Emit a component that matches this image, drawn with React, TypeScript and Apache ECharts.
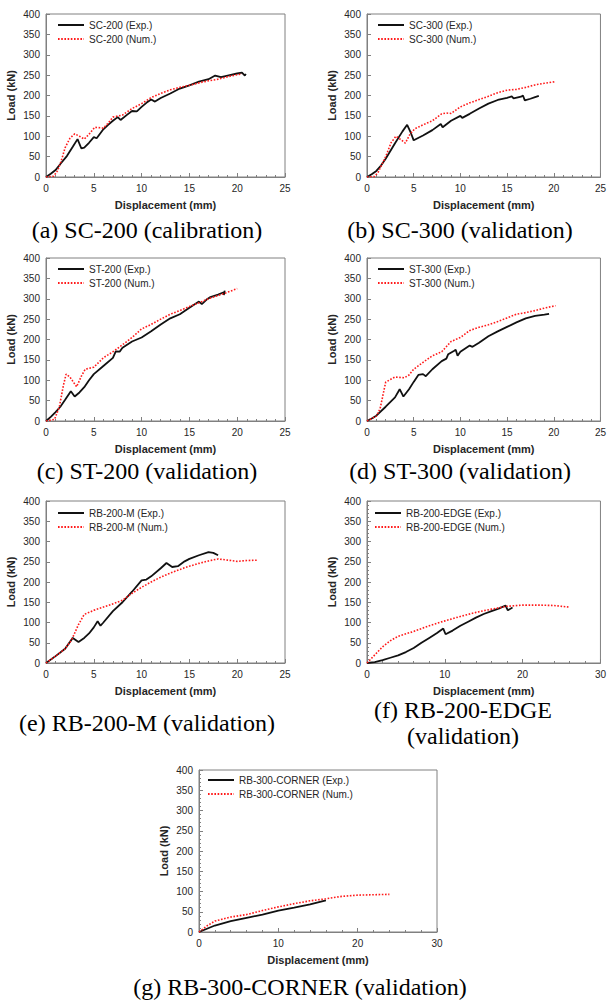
import React, { useEffect, useRef } from "react";
import * as echarts from "echarts";

// ---------- data: [displacement (mm), load (kN)] ----------
const sc200Exp = [[0,0],[0.5,8],[1,17],[1.5,32],[2.2,52],[2.8,74],[3.3,93],[3.7,70],[4,72],[4.5,84],[5,98],[5.3,95],[6,117],[6.5,128],[7,138],[7.5,147],[7.8,140],[8.5,153],[9,162],[9.5,161],[10,172],[10.5,182],[11,190],[11.4,185],[12,194],[13,205],[14,217],[15,225],[16,234],[17,240],[17.7,249],[18.3,245],[19,249],[20,254],[20.5,256],[20.8,249],[20.9,253]];
const sc200Num = [[0,0],[0.8,2],[1.2,15],[1.6,40],[2,72],[2.5,95],[3,106],[3.5,100],[4,93],[4.5,105],[5.1,122],[6,120],[6.5,132],[7,147],[8,152],[9,168],[10,180],[11,195],[12,205],[13,214],[14,220],[15,225],[16,231],[17,236],[18,240],[19,246],[20,251],[20.5,253]];

const sc300Exp = [[0,0],[0.5,7],[1,15],[1.5,28],[2,45],[3,83],[3.8,112],[4.3,128],[4.7,108],[5,90],[6,102],[7,115],[7.9,130],[8.1,122],[9,138],[10,150],[10.2,145],[11,155],[12,168],[13,180],[14,189],[15,194],[15.5,198],[15.7,193],[16.5,197],[16.7,200],[16.9,188],[17.5,192],[18,196],[18.4,199]];
const sc300Num = [[0,0],[0.8,1],[1.2,12],[2,50],[2.6,85],[3.1,100],[3.6,92],[4.1,83],[4.6,105],[5.1,118],[6,128],[7,138],[8,155],[8.5,157],[9,156],[10,172],[11,182],[12,190],[13,198],[14,207],[15,213],[16,215],[17,220],[18,226],[19,230],[20.2,234]];

const st200Exp = [[0,0],[0.5,10],[1,22],[1.5,35],[2,52],[2.6,73],[3,60],[3.5,70],[4,83],[4.5,100],[5,115],[6,135],[7,155],[7.3,171],[7.7,170],[8,180],[9,195],[10,205],[11,220],[12,237],[13,252],[14,262],[15,278],[16,293],[16.3,287],[16.8,298],[17.2,304],[18,310],[18.6,316],[18.6,309],[18.7,320]];
const st200Num = [[0,0],[0.9,4],[1.4,35],[1.8,85],[2.1,115],[2.5,108],[3.2,84],[3.7,110],[4.1,127],[5,132],[6,155],[7,170],[8,187],[9,205],[10,226],[11,237],[12,250],[13,262],[14,271],[15,281],[16,290],[17,300],[18,308],[19,316],[20,325]];

const st300Exp = [[0,0],[0.5,6],[1,13],[2,35],[3,58],[3.5,78],[3.9,60],[4.5,78],[5,96],[5.5,113],[6,115],[6.3,110],[7,127],[8,147],[8.5,153],[8.7,164],[9.3,172],[9.5,175],[9.7,160],[10,170],[11,185],[11.3,182],[12,192],[13,208],[14,220],[15,231],[16,242],[17,252],[18,258],[19,261],[19.5,263]];
const st300Num = [[0,0],[1,12],[1.4,30],[2,95],[2.5,102],[3,108],[4,106],[4.5,113],[5,127],[6,144],[7,160],[8,170],[9,195],[10,205],[11,222],[12,230],[13,236],[14,244],[15,253],[16,262],[17,266],[18,271],[19,277],[20.2,283]];

const rb200mExp = [[0,0],[1,17],[2,35],[2.8,62],[3.4,52],[4,62],[4.5,73],[5,88],[5.4,103],[5.7,92],[6,100],[7,128],[8,150],[9,176],[10,204],[10.5,206],[11,214],[12,234],[12.6,247],[13.2,237],[13.8,239],[14.5,251],[15,257],[16,266],[17,274],[17.5,272],[18,266]];
const rb200mNum = [[0,0],[1,17],[2,35],[2.7,58],[3.4,95],[4,120],[5,130],[6,138],[7,146],[8,155],[9,172],[10,187],[11,200],[12,212],[13,222],[14,231],[15,239],[16,246],[17,252],[18,257],[19,254],[20,251],[21,253],[22.2,254]];

const rb200eExp = [[0,0],[1,2],[2,7],[3,13],[4,19],[5,27],[6,37],[7,50],[8,62],[9,74],[9.8,85],[10.1,71],[11,80],[12,92],[13,102],[14,112],[15,121],[16,128],[17,135],[17.8,142],[18.1,130],[18.7,137]];
const rb200eNum = [[0,0],[1,20],[2,40],[3,55],[4,66],[5,72],[6,78],[7,85],[8,92],[9,98],[10,104],[12,115],[14,125],[16,133],[18,140],[20,143],[22,143],[24,142],[26,138]];

const rb300cExp = [[0,0],[1,8],[2,16],[4,27],[6,35],[8,43],[10,53],[12,60],[14,68],[16,78]];
const rb300cNum = [[0,0],[1,15],[2,27],[4,37],[6,43],[8,53],[10,62],[12,70],[14,77],[16,82],[18,88],[20,91],[22,92],[24,93]];

const specimens = ["SC-200", "SC-300", "ST-200", "ST-300", "RB-200-M", "RB-200-EDGE", "RB-300-CORNER"];
const expData = [sc200Exp, sc300Exp, st200Exp, st300Exp, rb200mExp, rb200eExp, rb300cExp];
const numData = [sc200Num, sc300Num, st200Num, st300Num, rb200mNum, rb200eNum, rb300cNum];
const xMaxes = [25, 25, 25, 25, 25, 30, 30];
const xIntervals = [5, 5, 5, 5, 5, 10, 10];
const yTicksMax = 400;
const yInterval = 50;
const captions = [
  ["(a) SC-200 (calibration)"],
  ["(b) SC-300 (validation)"],
  ["(c) ST-200 (validation)"],
  ["(d) ST-300 (validation)"],
  ["(e) RB-200-M (validation)"],
  ["(f) RB-200-EDGE", "(validation)"],
  ["(g) RB-300-CORNER (validation)"],
];

// ---------- layout ----------
const layout = [
  { grid: { left: 46, top: 14, width: 239, height: 163 }, leg: { left: 57, top: 20 }, cap: { x: 147, y: [230] }, yMinor: false },
  { grid: { left: 367, top: 14, width: 238, height: 163 }, leg: { left: 377, top: 20 }, cap: { x: 460, y: [230] }, yMinor: false },
  { grid: { left: 46, top: 258, width: 239, height: 163 }, leg: { left: 57, top: 264 }, cap: { x: 147, y: [471] }, yMinor: false },
  { grid: { left: 367, top: 258, width: 238, height: 163 }, leg: { left: 377, top: 264 }, cap: { x: 460, y: [471] }, yMinor: false },
  { grid: { left: 46, top: 501, width: 239, height: 162 }, leg: { left: 57, top: 508 }, cap: { x: 147, y: [723] }, yMinor: false },
  { grid: { left: 367, top: 501, width: 237, height: 162 }, leg: { left: 374, top: 508 }, cap: { x: 463, y: [710, 736] }, yMinor: true },
  { grid: { left: 199, top: 770, width: 238, height: 162 }, leg: { left: 207, top: 775 }, cap: { x: 300, y: [987] }, yMinor: true },
];

const sansFont = '"Liberation Sans", Arial, Helvetica, sans-serif';
const serifFont = '"Liberation Serif", "Times New Roman", Times, serif';
const axisGray = "#808080";
const textColor = "#262626";

export default function App() {
  const ref = useRef<HTMLDivElement>(null);

  useEffect(() => {
    document.body.style.margin = "0";
    if (!ref.current) return;
    const chart = echarts.init(ref.current, undefined, { renderer: "svg" });

    const grids: any[] = [];
    const xAxes: any[] = [];
    const yAxes: any[] = [];
    const legends: any[] = [];
    const series: any[] = [];
    const graphics: any[] = [];

    specimens.forEach((name, i) => {
      const L = layout[i];
      grids.push({ ...L.grid, show: true, borderColor: axisGray, borderWidth: 1, backgroundColor: "transparent", containLabel: false });
      xAxes.push({
        type: "value",
        gridIndex: i,
        min: 0,
        max: xMaxes[i],
        interval: xIntervals[i],
        name: "Displacement (mm)",
        nameLocation: "middle",
        nameGap: 22,
        nameTextStyle: { fontFamily: sansFont, fontWeight: "bold", fontSize: 11, color: textColor },
        axisLine: { show: true, lineStyle: { color: axisGray, width: 1 } },
        axisTick: { show: true, inside: true, length: 4, lineStyle: { color: axisGray } },
        minorTick: { show: true, splitNumber: 5, length: 2, lineStyle: { color: axisGray } },
        splitLine: { show: false },
        axisLabel: { fontFamily: sansFont, fontSize: 10, color: textColor, margin: 6 },
      });
      yAxes.push({
        type: "value",
        gridIndex: i,
        min: 0,
        max: yTicksMax,
        interval: yInterval,
        name: "Load (kN)",
        nameLocation: "middle",
        nameGap: 30,
        nameTextStyle: { fontFamily: sansFont, fontWeight: "bold", fontSize: 11, color: textColor },
        axisLine: { show: true, lineStyle: { color: axisGray, width: 1 } },
        axisTick: { show: true, inside: true, length: 4, lineStyle: { color: axisGray } },
        minorTick: { show: L.yMinor, splitNumber: 5, length: 2, lineStyle: { color: axisGray } },
        splitLine: { show: false },
        axisLabel: { fontFamily: sansFont, fontSize: 10, color: textColor, margin: 6 },
      });
      const expName = `${name} (Exp.)`;
      const numName = `${name} (Num.)`;
      legends.push({
        data: [expName, numName],
        orient: "vertical",
        left: L.leg.left,
        top: L.leg.top,
        itemWidth: 26,
        itemHeight: 10,
        itemGap: 4,
        padding: 0,
        selectedMode: false,
        itemStyle: { opacity: 0 },
        textStyle: { fontFamily: sansFont, fontSize: 10, color: textColor },
      });
      series.push({
        type: "line",
        name: expName,
        xAxisIndex: i,
        yAxisIndex: i,
        data: expData[i],
        showSymbol: false,
        symbol: "none",
        lineStyle: { color: "#111111", width: 1.8, type: "solid" },
        itemStyle: { color: "#111111" },
        z: 2,
      });
      series.push({
        type: "line",
        name: numName,
        xAxisIndex: i,
        yAxisIndex: i,
        data: numData[i],
        showSymbol: false,
        symbol: "none",
        lineStyle: { color: "#ff1a1a", width: 1.6, type: [1.6, 1.6] },
        itemStyle: { color: "#ff1a1a" },
        z: 3,
      });
      captions[i].forEach((line, k) => {
        graphics.push({
          type: "text",
          x: L.cap.x,
          y: L.cap.y[k],
          style: {
            text: line,
            align: "center",
            verticalAlign: "middle",
            fontFamily: serifFont,
            fontSize: 24,
            fill: "#000000",
          },
        });
      });
    });

    chart.setOption({
      animation: false,
      backgroundColor: "#ffffff",
      grid: grids,
      xAxis: xAxes,
      yAxis: yAxes,
      legend: legends,
      series,
      graphic: graphics,
    });

    return () => chart.dispose();
  }, []);

  return <div ref={ref} style={{ width: 609, height: 1001 }} />;
}
